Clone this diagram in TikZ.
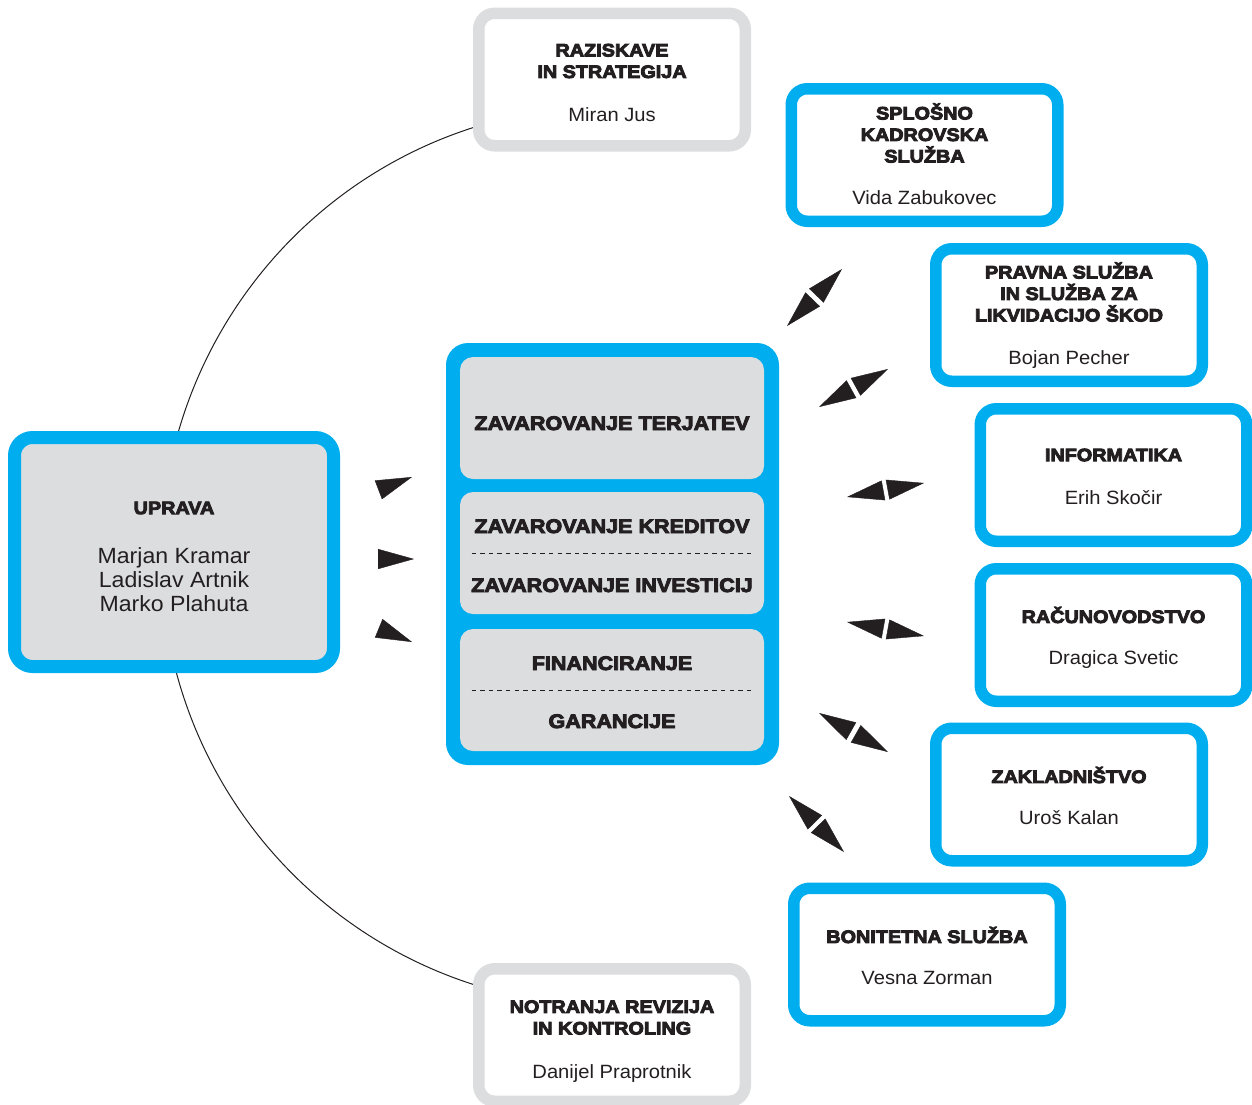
\documentclass[tikz,border=0pt]{standalone}
\usepackage{fontspec}
\setmainfont{Liberation Sans}[FakeStretch=1.05]
\newfontfamily\heavy{Liberation Sans Bold}[FakeStretch=1.1]
\usetikzlibrary{arrows.meta}

\definecolor{ink}{HTML}{231F20}
\definecolor{sky}{HTML}{00AEEF}
\definecolor{mist}{HTML}{DCDDDF}

% heavier strokes for the unit titles
\newcommand\black{\special{pdf:literal direct 2 Tr 0.45 w}}

\begin{document}
\begin{tikzpicture}[x=0.5pt,y=-0.5pt,
  unit/.style={draw=sky,fill=white,line width=5.75pt,rounded corners=8pt,
    minimum width=133.25pt,minimum height=66.25pt,inner sep=0pt},
  staff/.style={unit,draw=mist},
  board/.style={draw=sky,fill=mist,line width=6.5pt,rounded corners=9pt,
    minimum width=159.5pt,minimum height=114.5pt,inner sep=0pt},
  frame/.style={fill=sky,rounded corners=11pt,minimum width=166.5pt,
    minimum height=211pt,inner sep=0pt},
  cell/.style={fill=mist,rounded corners=6.5pt,minimum width=152pt,
    minimum height=61pt,inner sep=0pt},
  head/.style={font=\heavy\fontsize{9}{10.75}\selectfont\black,text=ink,
    align=center,inner sep=0pt},
  who/.style={font=\fontsize{9.6}{12}\selectfont,text=ink,anchor=base,
    inner sep=0pt},
  crew/.style={font=\fontsize{11}{12}\selectfont,text=ink,align=center,
    inner sep=0pt},
  lane/.style={font=\heavy\fontsize{9.8}{12}\selectfont\black,text=ink,
    anchor=base,inner sep=0pt},
  rule/.style={ink,line width=0.5pt,dash pattern=on 2.2pt off 2.1pt},
  twin/.style={white,line width=0.2pt,
    {Triangle[length=18.5pt,width=10pt,color=ink]}-{Triangle[length=18.5pt,width=10pt,color=ink]}},
  spike/.style={white,line width=0.2pt,-{Triangle[length=18pt,width=10pt,color=ink]}}]

\useasboundingbox (0,0) rectangle (1252,1104);

% arc behind the boxes
\coordinate (hub) at (611,556);
\draw[ink,line width=0.5pt] (hub) ++(100:225pt) arc[start angle=100,end angle=260,radius=225pt];

% management
\node[board] (upr) at (174,552) {};
\node[head] at (upr |- 0,508) {UPRAVA};
\node[crew] at (upr |- 0,580) {Marjan Kramar\\Ladislav Artnik\\Marko Plahuta};

% staff units
\node[staff] (raz) at (612,79.5) {};
\node[head] at (raz |- 0,61) {RAZISKAVE\\IN STRATEGIJA};
\node[who] at (raz |- 0,121) {Miran Jus};

\node[staff] (notr) at (612,1035) {};
\node[head] at (notr |- 0,1017.5) {NOTRANJA REVIZIJA\\IN KONTROLING};
\node[who] at (notr |- 0,1078) {Danijel Praprotnik};

% core business
\node[frame] (core) at (612.5,554) {};
\node[cell] (zt) at (612,418) {};
\node[cell] (zk) at (612,553) {};
\node[cell] (fg) at (612,690) {};

\node[lane] at (zt |- 0,430) {ZAVAROVANJE TERJATEV};
\node[lane] at (zk |- 0,533) {ZAVAROVANJE KREDITOV};
\draw[rule] ([xshift=6pt]zk.west) -- ([xshift=-6pt]zk.east);
\node[lane] at (zk |- 0,592) {ZAVAROVANJE INVESTICIJ};
\node[lane] at (fg |- 0,670) {FINANCIRANJE};
\draw[rule] ([xshift=6pt]fg.west) -- ([xshift=-6pt]fg.east);
\node[lane] at (fg |- 0,728) {GARANCIJE};

% support units
\node[unit] (splo) at (924.5,155) {};
\node[head] at (splo |- 0,133) {SPLOŠNO\\KADROVSKA\\SLUŽBA};
\node[who] at (splo |- 0,204) {Vida Zabukovec};

\node[unit] (prav) at (1069,315) {};
\node[head] at (prav |- 0,292) {PRAVNA SLUŽBA\\IN SLUŽBA ZA\\LIKVIDACIJO ŠKOD};
\node[who] at (prav |- 0,364) {Bojan Pecher};

\node[unit] (info) at (1113.5,475) {};
\node[head] at (info |- 0,455) {INFORMATIKA};
\node[who] at (info |- 0,504) {Erih Skočir};

\node[unit] (racu) at (1113.5,635) {};
\node[head] at (racu |- 0,615) {RAČUNOVODSTVO};
\node[who] at (racu |- 0,664) {Dragica Svetic};

\node[unit] (zakl) at (1069,794.5) {};
\node[head] at (zakl |- 0,775) {ZAKLADNIŠTVO};
\node[who] at (zakl |- 0,824) {Uroš Kalan};

\node[unit] (boni) at (927,954.5) {};
\node[head] at (boni |- 0,935) {BONITETNA SLUŽBA};
\node[who] at (boni |- 0,984) {Vesna Zorman};

% arrows
\foreach \n/\xa/\ya/\xb/\yb in {1/378/490/412/477, 2/377/559/414/559, 3/378/628/412/642}{
  \coordinate (s\n) at (\xa,\ya);
  \coordinate (e\n) at (\xb,\yb);
  \draw[spike] (s\n) -- (e\n);
}
\foreach \n/\xa/\ya/\xb/\yb in {1/787/326/842/269, 2/819/407/888/369, 3/847/497/924/483,
    4/847/622/924/636, 5/819/713/888/752, 6/789/796/844/852}{
  \coordinate (p\n) at (\xa,\ya);
  \coordinate (q\n) at (\xb,\yb);
  \draw[twin] (p\n) -- (q\n);
}

\end{tikzpicture}
\end{document}
